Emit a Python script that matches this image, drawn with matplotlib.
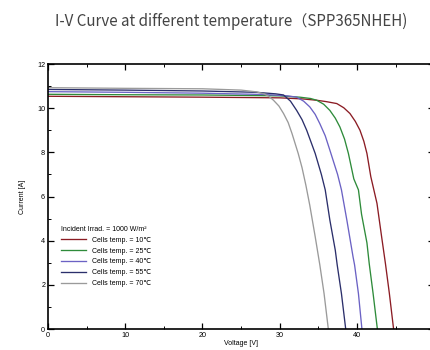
import matplotlib.pyplot as plt
from matplotlib.ticker import MultipleLocator

plt.rcParams["font.family"] = ["Liberation Sans", "DejaVu Sans"]

temps = ["10", "25", "40", "55", "70"]
colors = ["#8b1c24", "#2e8b3a", "#6b62c4", "#2b2f6b", "#9a9a9a"]

v_10 = [0, 10, 20, 30, 33.0, 34.8, 36.0, 37.4, 38.3, 39.1, 39.8, 40.4, 40.9, 41.3, 41.8,
        42.6, 43.2, 43.7, 44.2, 44.75]
i_10 = [10.54, 10.52, 10.5, 10.47, 10.42, 10.36, 10.3, 10.21, 10.02, 9.76, 9.4, 9.0, 8.5,
        7.95, 6.9, 5.69, 4.18, 2.95, 1.62, 0]

v_25 = [0, 10, 20, 30, 32.6, 34.0, 34.8, 35.7, 36.5, 37.2, 37.8, 38.4, 38.9, 39.6, 40.2,
        40.6, 41.3, 41.6, 42.1, 42.65]
i_25 = [10.63, 10.61, 10.6, 10.56, 10.5, 10.44, 10.36, 10.18, 9.9, 9.55, 9.15, 8.6, 7.95,
        6.8, 6.3, 5.2, 3.9, 2.95, 1.6, 0]

v_40 = [0, 10, 20, 28, 31.0, 32.2, 33.1, 33.9, 34.6, 35.2, 35.9, 36.5, 37.5, 38.0, 38.7,
        39.5, 39.7, 40.2, 40.65]
i_40 = [10.75, 10.72, 10.68, 10.62, 10.56, 10.5, 10.32, 10.06, 9.72, 9.3, 8.75, 8.1, 7.0,
        6.3, 4.93, 3.27, 2.9, 1.6, 0]

v_55 = [0, 10, 20, 27, 29.5, 30.5, 31.4, 32.2, 32.9, 33.5, 34.6, 35.4, 35.9, 36.5, 37.2,
        37.45, 38.0, 38.55]
i_55 = [10.85, 10.82, 10.78, 10.72, 10.65, 10.6, 10.32, 9.9, 9.48, 9.0, 7.95, 7.0, 6.3,
        4.93, 3.57, 2.9, 1.6, 0]

v_70 = [0, 10, 20, 25, 27.0, 27.9, 28.6, 29.2, 29.9, 30.5, 31.1, 31.6, 32.4, 32.9, 33.4,
        33.9, 34.6, 35.2, 35.75, 36.3]
i_70 = [10.93, 10.9, 10.88, 10.82, 10.74, 10.66, 10.54, 10.36, 10.1, 9.76, 9.35, 8.85,
        7.95, 7.3, 6.5, 5.6, 4.18, 2.9, 1.6, 0]

voltages = [v_10, v_25, v_40, v_55, v_70]
currents = [i_10, i_25, i_40, i_55, i_70]

fig = plt.figure(figsize=(4.3, 3.5), dpi=100)
ax = fig.add_axes([0.1116, 0.06, 0.898, 0.757])

for t, v, i, c in zip(temps, voltages, currents, colors):
    ax.plot(v, i, color=c, lw=0.95, label=f"Cells temp. = {t}\u2103")

ax.set_xlim(0, 50)
ax.set_ylim(0, 12)
ax.xaxis.set_major_locator(MultipleLocator(10))
ax.xaxis.set_minor_locator(MultipleLocator(5))
ax.yaxis.set_major_locator(MultipleLocator(2))
ax.yaxis.set_minor_locator(MultipleLocator(1))
ax.tick_params(which="both", direction="in", top=True, right=True, labelsize=5.2, pad=2)
ax.tick_params(which="major", length=4, width=0.9)
ax.tick_params(which="minor", length=2, width=0.7)
for s in ax.spines.values():
    s.set_linewidth(1.2)

ax.set_xlabel("Voltage [V]", fontsize=5, labelpad=1)
ax.set_ylabel("Current [A]", fontsize=5, labelpad=8)

leg = ax.legend(title="Incident Irrad. = 1000 W/m\u00b2", loc="lower left",
                bbox_to_anchor=(0.02, 0.14), frameon=False, fontsize=5,
                title_fontsize=5, handlelength=3.6, handletextpad=0.9,
                labelspacing=0.55, borderpad=0.2)
leg._legend_box.align = "left"

fig.text(0.537, 0.94, "I-V Curve at different temperature\uff08SPP365NHEH)",
         ha="center", va="center", fontsize=10.9, color="#444444",
         family=["Noto Sans CJK SC", "DejaVu Sans"])

fig.savefig("out.png", dpi=100)
